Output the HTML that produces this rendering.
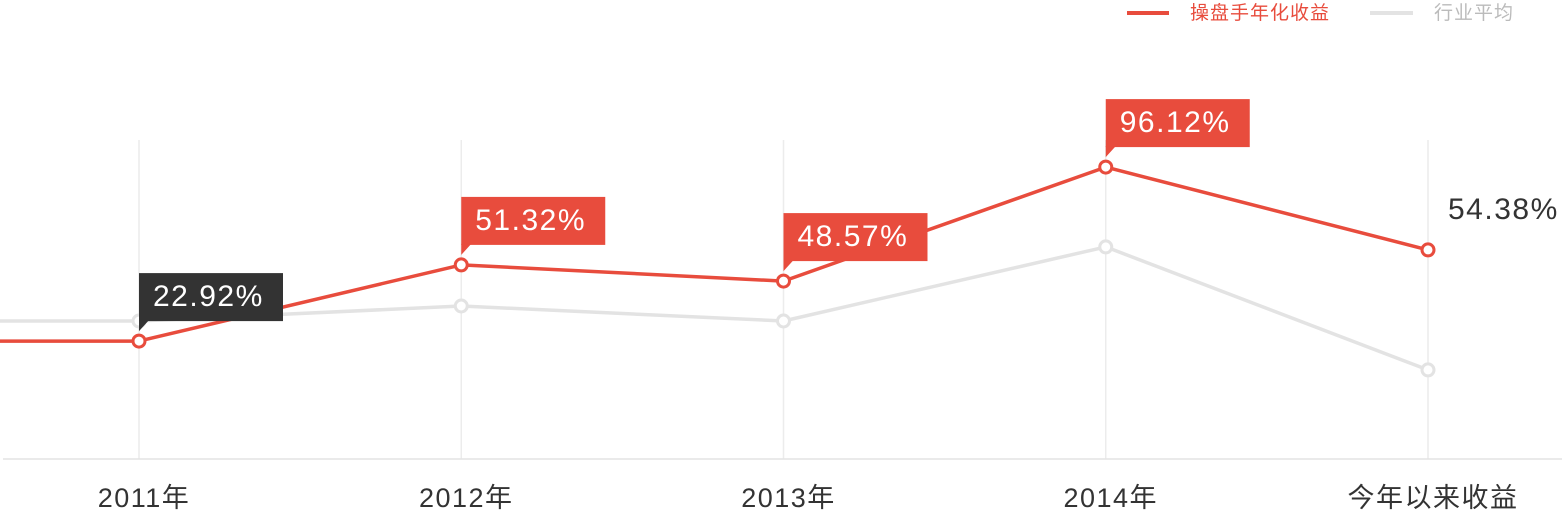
<!DOCTYPE html>
<html><head><meta charset="utf-8">
<style>
html,body{margin:0;padding:0;background:#fff;width:1562px;height:512px;overflow:hidden;}
svg{display:block;font-family:"Liberation Sans","Noto Sans CJK SC",sans-serif;}
</style></head>
<body>
<svg id="chart" width="1562" height="512" viewBox="0 0 1562 512">
  <g>
    <line x1="1127" y1="13" x2="1169" y2="13" stroke="#e84c3d" stroke-width="4"/>
    <text x="1190" y="19" font-size="19" letter-spacing="1" fill="#e84c3d">操盘手年化收益</text>
    <line x1="1370" y1="13" x2="1413" y2="13" stroke="#e3e3e3" stroke-width="4"/>
    <text x="1434" y="19" font-size="19" letter-spacing="1" fill="#bbbbbb">行业平均</text>
  </g>
  <g id="grid"></g>
  <line x1="3" y1="459" x2="1562" y2="459" stroke="#e3e3e3" stroke-width="1.5"/>
  <g id="xlabels"></g>
  <g id="series"></g>
  <g id="labels"></g>
</svg>
<script>
const categories = ["2011年","2012年","2013年","2014年","今年以来收益"];
const traderValues = [39.3, 64.7, 59.3, 97.3, 69.7];
const industryValues = [46.0, 51.0, 46.0, 70.7, 29.7];
const traderLabels = ["22.92%","51.32%","48.57%","96.12%","54.38%"];

const NS = "http://www.w3.org/2000/svg";
function xScale(i){ return 139 + i * 322.25; }
function yScale(v){ return 459 - v * 3; }
function mk(tag, attrs, parent){
  const el = document.createElementNS(NS, tag);
  for (const k in attrs) el.setAttribute(k, attrs[k]);
  parent.appendChild(el);
  return el;
}
const grid = document.getElementById('grid');
const xl = document.getElementById('xlabels');
const ser = document.getElementById('series');
const lab = document.getElementById('labels');

categories.forEach((c, i) => {
  const g = mk('line', {x1: xScale(i), x2: xScale(i), y1: 140, y2: 459, stroke: '#ececec', 'stroke-width': 1.5}, grid);
  
  
  const t = mk('text', {x: xScale(i) + 5, y: 507, 'text-anchor': 'middle', 'font-size': 27, 'letter-spacing': 1.5, fill: '#333'}, xl);
  t.textContent = c;
  
  
});

function drawSeries(vals, color, name){
  let d = 'M0,' + yScale(vals[0]);
  vals.forEach((v, i) => { d += ' L' + xScale(i) + ',' + yScale(v); });
  const p = mk('path', {d: d, fill: 'none', stroke: color, 'stroke-width': 3.5, 'stroke-linejoin': 'round'}, ser);
  
  
  vals.forEach((v, i) => {
    const c = mk('circle', {cx: xScale(i), cy: yScale(v), r: 6, fill: '#fff', stroke: color, 'stroke-width': 3}, ser);
    
    
  });
}
drawSeries(industryValues, '#e3e3e3', 'industry');
drawSeries(traderValues, '#e84c3d', 'trader');

traderLabels.forEach((s, i) => {
  const x = xScale(i), y = yScale(traderValues[i]);
  if (i === categories.length - 1) {
    const t = mk('text', {x: x + 20, y: y - 31, 'font-size': 30, 'letter-spacing': 1.5, fill: '#333'}, lab);
    t.textContent = s;
    
    
    return;
  }
  const color = i === 0 ? '#333333' : '#e84c3d';
  const bottom = y - 20, top = bottom - 48;
  const g = mk('g', {}, lab);
  
  
  mk('rect', {x: x, y: top, width: 144, height: 48, fill: color}, g);
  mk('path', {d: 'M' + x + ',' + (bottom - 1) + ' L' + (x + 10) + ',' + (bottom - 1) + ' L' + x + ',' + (bottom + 10) + ' Z', fill: color}, g);
  const t = mk('text', {x: x + 14, y: top + 33, 'font-size': 30, 'letter-spacing': 1.5, fill: '#fff'}, g);
  t.textContent = s;
  
  
});
</script>
</body></html>
